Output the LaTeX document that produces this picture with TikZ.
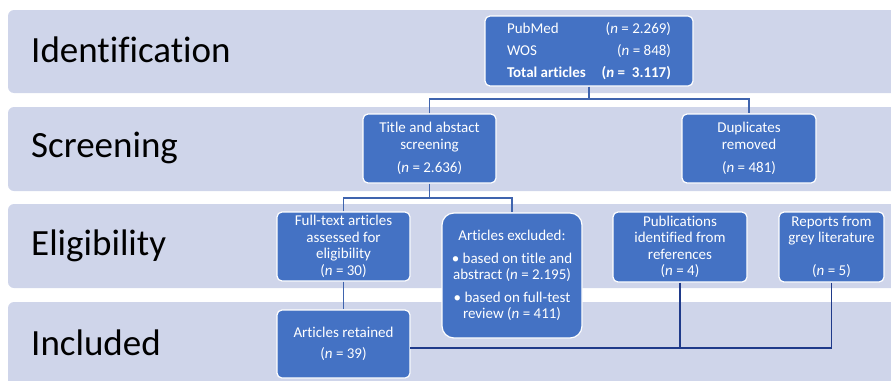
\documentclass[tikz,border=0pt]{standalone}
\usepackage{fontspec}
\setmainfont[Ligatures=NoCommon]{Carlito}
\usepackage{xcolor}
\usepackage{tikz}
\usetikzlibrary{positioning, calc}

\definecolor{bandfill}{HTML}{CFD5EA}
\definecolor{boxblue}{HTML}{4472C4}
\definecolor{linkblue}{HTML}{3F64AE}
\definecolor{linknavy}{HTML}{1F3A8A}

\newcommand{\nval}[1]{(\textit{n} = #1)}

\begin{document}
\begin{tikzpicture}[
    x=1pt, y=-1pt,
    band/.style={fill=bandfill, rounded corners=6pt},
    stage/.style={anchor=base west, font=\fontsize{37}{40}\selectfont, inner sep=0},
    stagebox/.style={rectangle, rounded corners=5pt, draw=white, line width=1.2pt, fill=boxblue, text=white, align=center, inner sep=0, font=\fontsize{15}{16.5}\selectfont},
    link/.style={draw=linkblue, line width=1.6pt},
    bus/.style={draw=linknavy, line width=1.1pt}
]

\useasboundingbox (0,0) rectangle (891,380);
\clip (0,0) rectangle (891,380);

\fill[band] (8,10) rectangle (900,93);
\fill[band] (8,107) rectangle (900,191);
\fill[band] (8,204) rectangle (900,288);
\fill[band] (8,302) rectangle (900,390);

\node[stage] (ident) at (31,62) {Identification};
\node[stage] (screen) at (31,157) {Screening};
\node[stage] (elig) at (31,255) {Eligibility};
\node[stage] (incl) at (31,355) {Included};

\node[stagebox, minimum width=208pt, minimum height=70pt] (search) at (589,51) {\renewcommand{\arraystretch}{1.33}\begin{tabular*}{164pt}{@{}l@{\extracolsep{\fill}}r@{}}
PubMed & \nval{2.269}\\
WOS & \nval{848}\\
\textbf{Total articles} & \textbf{(\textit{n} =\ \ 3.117)}
\end{tabular*}};

\node[stagebox, minimum width=133pt, minimum height=69pt] (title) at (429.5,148.5) {Title and abstact\\screening\\[7pt]\nval{2.636}};
\node[stagebox, minimum width=134pt, minimum height=69pt] (dup) at (749,148.5) {Duplicates\\removed\\[7pt]\nval{481}};

\node[stagebox, minimum width=133pt, minimum height=69pt] (full) at (343.5,246.5) {Full-text articles\\assessed for\\eligibility\\\nval{30}};
\node[stagebox, rounded corners=12pt, minimum width=140pt, minimum height=125pt] (excl) at (512,275.5) {Articles excluded:\\[6pt]\textbullet{} based on title and\\abstract \nval{2.195}\\[6pt]\textbullet{} based on full-test\\review \nval{411}};
\node[stagebox, minimum width=134pt, minimum height=70pt] (pubs) at (680,247) {Publications\\identified from\\references\\\nval{4}};
\node[stagebox, minimum width=105pt, minimum height=70pt] (grey) at (831.5,247) {Reports from\\grey literature\\~\\\nval{5}};

\node[stagebox, minimum width=133pt, minimum height=68pt] (kept) at (343.5,344) {Articles retained\\[5pt]\nval{39}};

\coordinate (split1) at (589,99);
\coordinate (split2) at (429.5,198);
\coordinate (join) at (410,348);

\draw[link] (search.south) -- (split1);
\draw[link] (title.north) -- (title.north |- split1) -- (dup.north |- split1) -- (dup.north);
\draw[link] (title.south) -- (split2);
\draw[link] (full.north) -- (full.north |- split2) -- (excl.north |- split2) -- (excl.north);
\draw[link] (full.south) -- (kept.north);
\draw[bus] (grey.south) |- (join);
\draw[bus] (pubs.south) -- (pubs.south |- join);

\end{tikzpicture}
\end{document}
